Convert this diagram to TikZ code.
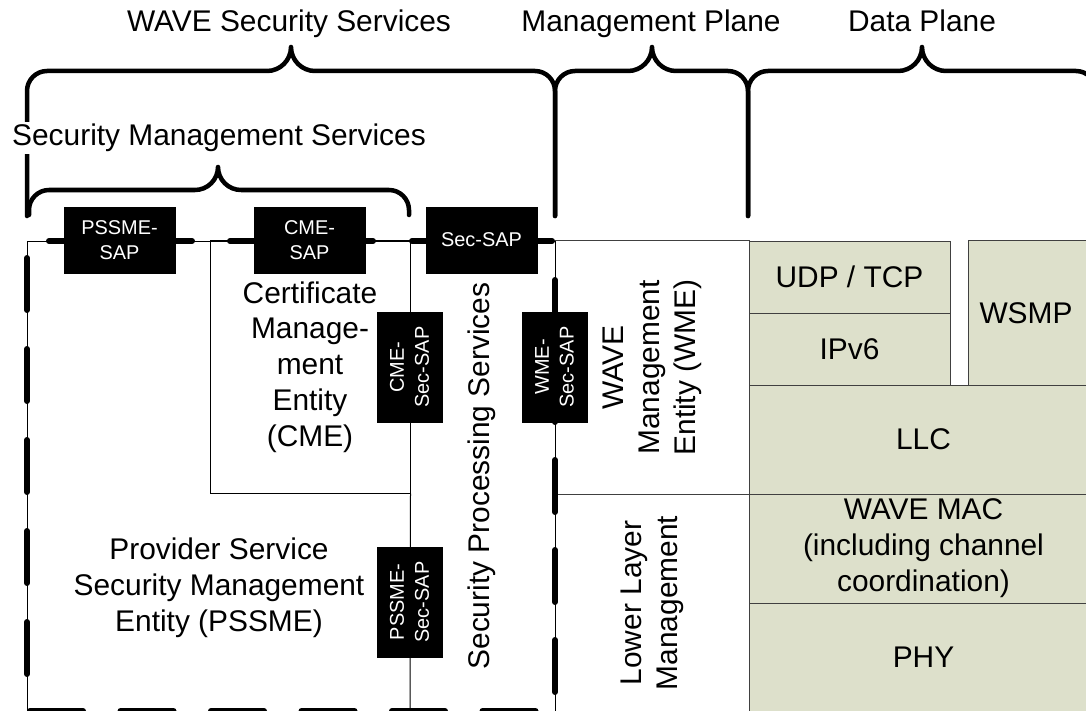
\documentclass[tikz,border=0pt]{standalone}
\usepackage{fontspec}
\setmainfont{Liberation Sans}
\definecolor{layerfill}{RGB}{221,224,203}
\definecolor{layerline}{RGB}{64,64,64}
% curly brace: #1 left leg x, #2 right leg x, #3 tip x, #4 bar y, #5 leg bottom y, #6 tip rise
\newcommand{\drawbrace}[6]{%
  \draw[brace] (#1,#5) -- (#1,#4+20)
    .. controls (#1,#4+9) and (#1+9,#4) .. (#1+20,#4)
    -- (#3-#6,#4)
    .. controls (#3-0.45*#6,#4) and (#3,#4-0.45*#6) .. (#3,#4-#6)
    .. controls (#3,#4-0.45*#6) and (#3+0.45*#6,#4) .. (#3+#6,#4)
    -- (#2-20,#4)
    .. controls (#2-9,#4) and (#2,#4+9) .. (#2,#4+20) -- (#2,#5);}
\tikzset{
  bigtext/.style={font=\fontsize{30}{36}\selectfont, align=center, inner sep=0pt},
  sapbox/.style={fill=black, draw=black, text=white, align=center, inner sep=0pt,
    font=\fontsize{20}{25}\selectfont},
  hsap/.style={sapbox, minimum width=111bp, minimum height=66bp},
  vsap/.style={sapbox, rotate=90, minimum width=110bp, minimum height=65bp},
  entity/.style={draw=black, line width=1bp, bigtext},
  mgmtbox/.style={draw=layerline, line width=1bp, bigtext},
  layer/.style={draw=layerline, fill=layerfill, line width=1bp, bigtext},
  brace/.style={line width=4.5bp, line cap=round, line join=round},
  thinline/.style={line width=1bp},
  stub/.style={line width=6bp, line cap=round},
  edgedash/.style={line width=6bp, line cap=round},
}
\begin{document}
\begin{tikzpicture}[x=1bp,y=-1bp]
\useasboundingbox (0,0) rectangle (1086,711);
\clip (0,0) rectangle (1086,711);

% ---- protocol stack (data plane) ----
\node[layer, minimum width=201bp, minimum height=72bp] (udp) at (849.5,277) {UDP / TCP};
\node[layer, minimum width=201bp, minimum height=72bp] (ipv6) at (849.5,349) {IPv6};
\node[layer, minimum width=130bp, minimum height=144bp] (wsmp) at (1033,313) {};
\node[bigtext] (wsmptext) at (1026,313) {WSMP};
\node[layer, minimum width=349bp, minimum height=109bp] (llc) at (923.5,439.5) {LLC};
\node[layer, minimum width=349bp, minimum height=109bp] (mac) at (923.5,548.5)
  {WAVE MAC\\(including channel\\coordination)};
\node[layer, minimum width=349bp, minimum height=109bp] (phy) at (923.5,657.5) {PHY};

% ---- management plane ----
\node[mgmtbox, rotate=90, minimum width=253bp, minimum height=194bp] (wme) at (652,367.5)
  {WAVE\\Management\\Entity (WME)};
\node[mgmtbox, rotate=90, minimum width=218bp, minimum height=194bp] (llm) at (652,603)
  {Lower Layer\\Management};

% ---- security services ----
\coordinate (tl) at (27,241);
\coordinate (tr) at (555,241);
\coordinate (bl) at (27,711);
\coordinate (br) at (555,711);
\draw[thinline] (bl) -- (tl) -- (tr) -- (br);
\draw[thinline] (bl) -- (br);

\node[entity, minimum width=200bp, minimum height=252bp] (cme) at (310,367)
  {Certificate\\Manage-\\ment\\Entity\\(CME)};
\coordinate (cmefoot) at (410,711);
\draw[thinline] (cme.south east) -- (cmefoot);

\node[bigtext] (pssme) at (219,588)
  {Provider Service\\Security Management\\Entity (PSSME)};
\node[bigtext, rotate=90] (sps) at (482,476) {Security Processing Services};

% heavy dashed outline of the security services block
\draw[edgedash, dash pattern=on 52bp off 39bp] (27,258) -- (27,711);
\draw[edgedash, dash pattern=on 52bp off 38bp] (555,280) -- (555,711);
\draw[edgedash, dash pattern=on 53bp off 37.5bp] (30,711) -- (560,711);

% service access points
\draw[stub] (49,241) -- (192,241);
\draw[stub] (230,241) -- (373,241);
\draw[stub] (412,241) -- (552,241);
\node[hsap] (pssmesap) at (119.5,240) {PSSME-\\SAP};
\node[hsap] (cmesap) at (309.5,240) {CME-\\SAP};
\node[hsap] (secsap) at (481.5,240) {Sec-SAP};
\node[vsap] (cmesecsap) at (409.5,367) {CME-\\Sec-SAP};
\node[vsap] (wmesecsap) at (554.5,367) {WME-\\Sec-SAP};
\node[vsap] (pssmesecsap) at (409.5,602) {PSSME-\\Sec-SAP};

% ---- braces and headings ----
\drawbrace{27}{555}{291}{71}{216}{24}
\drawbrace{555}{748}{652}{71}{216}{24}
\drawbrace{748}{1096}{922}{71}{216}{24}
\drawbrace{29}{409}{218}{190}{215}{23}

\node[bigtext, anchor=base] (wss) at (289,32) {WAVE Security Services};
\node[bigtext, anchor=base] (mplane) at (651,32) {Management Plane};
\node[bigtext, anchor=base] (dplane) at (922,32) {Data Plane};
\node[bigtext, fill=white, inner sep=2bp] (sms) at (219,138) {Security Management Services};
\end{tikzpicture}
\end{document}
